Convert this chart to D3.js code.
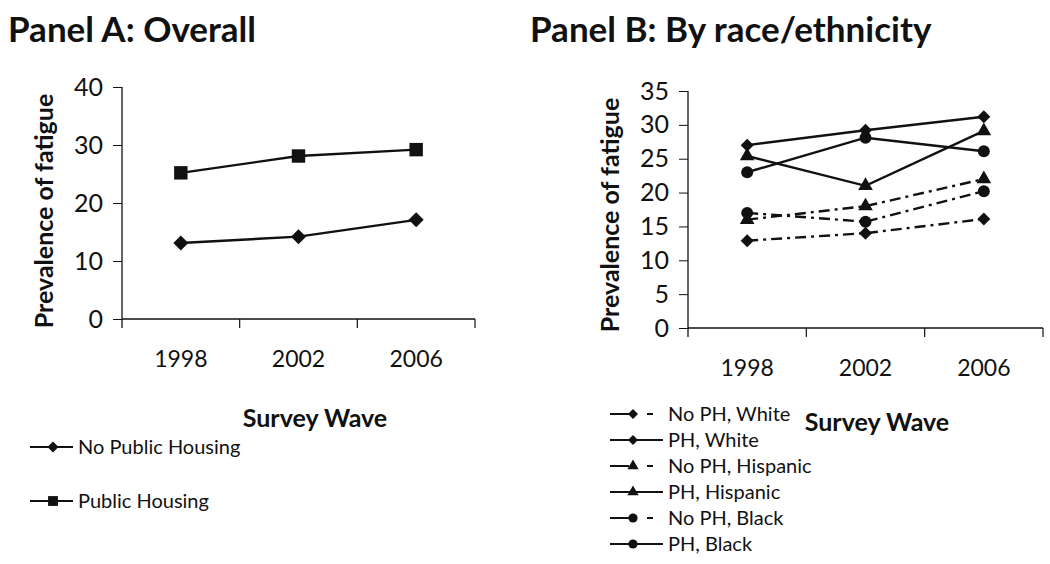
<!DOCTYPE html>
<html><head><meta charset="utf-8">
<script src="https://cdn.jsdelivr.net/npm/d3@7"></script>
<style>
body{margin:0;background:#fff;}
svg text{font-family:Lato,"Open Sans",sans-serif;fill:#111;}
</style></head><body>
<svg id="c" width="1050" height="564"></svg>
<script>
const waves = ["1998","2002","2006"];
const yTicksA = [0,10,20,30,40];
const yTicksB = [0,5,10,15,20,25,30,35];

const noPublicHousing = [13.1, 14.2, 17.1];
const publicHousing   = [25.2, 28.1, 29.2];

const noPHWhite    = [12.9, 14.0, 16.1];
const phWhite      = [27.0, 29.2, 31.2];
const noPHHispanic = [16.0, 18.0, 22.0];
const phHispanic   = [25.4, 21.0, 29.1];
const noPHBlack    = [17.0, 15.7, 20.2];
const phBlack      = [23.0, 28.1, 26.1];

const seriesA = [
  {name:"No Public Housing", values:noPublicHousing, sym:"diamond", dash:null},
  {name:"Public Housing", values:publicHousing, sym:"square", dash:null}
];
const seriesB = [
  {name:"No PH, White", values:noPHWhite, sym:"diamond", dash:"11,5,3,5"},
  {name:"PH, White", values:phWhite, sym:"diamond", dash:null},
  {name:"No PH, Hispanic", values:noPHHispanic, sym:"triangle", dash:"11,5,3,5"},
  {name:"PH, Hispanic", values:phHispanic, sym:"triangle", dash:null},
  {name:"No PH, Black", values:noPHBlack, sym:"circle", dash:"11,5,3,5"},
  {name:"PH, Black", values:phBlack, sym:"circle", dash:null}
];

const svg = d3.select("#c");
const ink = "#111";

function marker(sel, sym, scale){
  if (sym === "diamond") {
    const side = scale/Math.SQRT2;
    return sel.attr("d", d3.symbol().type(d3.symbolSquare).size(side*side)());
  }
  if (sym === "square") return sel.attr("d", d3.symbol().type(d3.symbolSquare).size(scale*scale*0.8)());
  if (sym === "triangle") return sel.attr("d", d3.symbol().type(d3.symbolTriangle).size(scale*scale*0.55)());
  return sel.attr("d", d3.symbol().type(d3.symbolCircle).size(Math.PI*(scale*0.46)*(scale*0.46))());
}

function panel(opt){
  const g = svg.append("g");
  const x = d3.scaleBand().domain(waves).range([opt.x0, opt.x1]);
  const y = d3.scaleLinear().domain([0, opt.ymax]).range([opt.yb, opt.yt]);
  g.append("text").attr("x", opt.tx).attr("y", 42).attr("font-size", 35).attr("font-weight", 700).text(opt.title);
  const ya = d3.axisLeft(y).tickValues(opt.yticks).tickSize(9).tickSizeOuter(0).tickPadding(10);
  const yg = g.append("g").attr("transform", `translate(${opt.x0},0)`).call(ya);
  yg.select(".domain").attr("stroke", ink).attr("stroke-width", 1.3).attr("d", `M0,${opt.yt}V${opt.yb+9}`);
  yg.selectAll(".tick line").attr("stroke", ink);
  yg.selectAll(".tick text").attr("font-size", 25).attr("fill", ink);
  const xa = d3.axisBottom(x).tickSize(0).tickPadding(32);
  const xg = g.append("g").attr("transform", `translate(0,${opt.yb})`).call(xa);
  xg.select(".domain").attr("stroke", ink).attr("stroke-width", 1.5).attr("d", `M${opt.x0},0H${opt.x1}`);
  xg.selectAll(".tick text").attr("font-size", 23).attr("fill", ink);
  const bounds = waves.slice(1).map(w => x(w)).concat([opt.x1]);
  xg.selectAll("line.b").data(bounds).enter().append("line").attr("class","b")
    .attr("x1", d=>d).attr("x2", d=>d).attr("y1", 0).attr("y2", 9).attr("stroke", ink).attr("stroke-width", 1.2);
  g.append("text").attr("transform", `translate(${opt.ytx},${opt.ytc}) rotate(-90)`)
    .attr("text-anchor","middle").attr("font-size", 25).attr("font-weight", 700).text("Prevalence of fatigue");
  g.append("text").attr("x", opt.xtx).attr("y", opt.xty).attr("text-anchor","middle")
    .attr("font-size", 25).attr("font-weight", 700).text("Survey Wave");
  const cx = w => x(w) + x.bandwidth()/2;
  const line = d3.line().x((d,i)=>cx(waves[i])).y(d=>y(d));
  opt.series.forEach(s => {
    g.append("path").attr("d", line(s.values)).attr("fill","none").attr("stroke", ink)
      .attr("stroke-width", 2.4).attr("stroke-dasharray", s.dash);
    g.selectAll(null).data(s.values).enter().append("path")
      .call(sel => marker(sel, s.sym, opt.msize))
      .attr("transform", (d,i)=>`translate(${cx(waves[i])},${y(d)})` + (s.sym==="diamond" ? " rotate(45)" : ""))
      .attr("fill", ink);
  });
  opt.series.forEach((s,i) => {
    const ly = opt.ly0 + i*opt.lstep;
    const lg = g.append("g").attr("transform", `translate(${opt.lx},${ly})`);
    if (s.dash) {
      lg.append("line").attr("x1",0).attr("x2",opt.lmk-4).attr("y1",0).attr("y2",0).attr("stroke",ink).attr("stroke-width",2);
      lg.append("line").attr("x1",opt.lmk+14).attr("x2",opt.lmk+20).attr("y1",0).attr("y2",0).attr("stroke",ink).attr("stroke-width",2);
    } else {
      lg.append("line").attr("x1",0).attr("x2",opt.llen).attr("y1",0).attr("y2",0).attr("stroke",ink).attr("stroke-width",2);
    }
    lg.append("path").call(sel => marker(sel, s.sym, opt.lms))
      .attr("transform", `translate(${opt.lmk},0)` + (s.sym==="diamond" ? " rotate(45)" : "")).attr("fill", ink);
    lg.append("text").attr("x", opt.llen+5).attr("y", 7).attr("font-size", 20).text(s.name);
  });
}

panel({title:"Panel A: Overall", tx:8, x0:122, x1:475, yt:87, yb:319, ymax:40, yticks:yTicksA,
  ytx:53, ytc:211, xtx:315, xty:427, series:seriesA, msize:15, lx:30, ly0:447, lstep:54, llen:43, lmk:23, lms:11});
panel({title:"Panel B: By race/ethnicity", tx:530, x0:688, x1:1043, yt:91, yb:328, ymax:35, yticks:yTicksB,
  ytx:619, ytc:215, xtx:877, xty:431, series:seriesB, msize:13, lx:610, ly0:414, lstep:26, llen:53, lmk:23, lms:10});
</script></body></html>
